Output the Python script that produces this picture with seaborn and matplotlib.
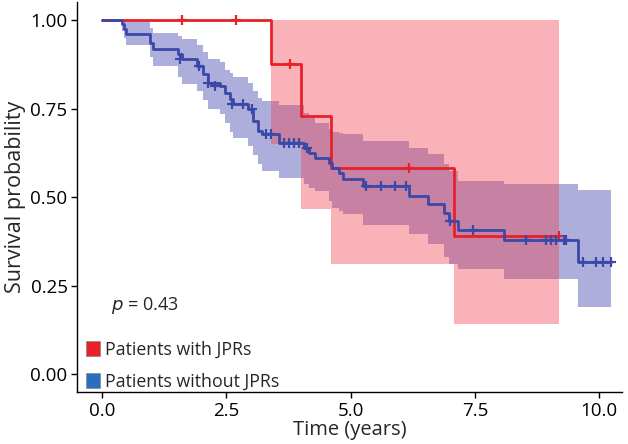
import matplotlib
matplotlib.use("Agg")
import matplotlib.pyplot as plt
import seaborn as sns
import pandas as pd
from matplotlib.patches import Patch

# ---- data ----
red_time  = [0.0, 3.39, 3.99, 4.60, 7.08, 9.19]
red_surv  = [1.0, 0.875, 0.729, 0.583, 0.389, 0.389]
red_lower = [1.0, 0.649, 0.466, 0.310, 0.143, 0.143]
red_upper = [1.0, 1.0, 1.0, 1.0, 1.0, 1.0]
red_cens_t = [1.60, 2.70, 3.78, 6.17, 9.19]
red_cens_s = [1.0, 1.0, 0.875, 0.583, 0.389]

blue_time = [0.0, 0.40, 0.44, 0.48, 0.97, 1.03, 1.53, 1.61, 1.91, 2.02, 2.12,
             2.38, 2.48, 2.58, 2.64, 2.94, 3.04, 3.14, 3.22, 3.55, 4.07, 4.17,
             4.29, 4.56, 4.62, 4.76, 4.84, 5.24, 6.17, 6.55, 6.87, 6.98, 7.15,
             8.09, 9.58, 10.24]
blue_surv = [1.0, 0.989, 0.975, 0.961, 0.936, 0.918, 0.904, 0.890, 0.870, 0.848, 0.823,
             0.814, 0.794, 0.777, 0.763, 0.749, 0.715, 0.687, 0.679, 0.653, 0.640, 0.625,
             0.611, 0.597, 0.583, 0.569, 0.552, 0.532, 0.504, 0.480, 0.456, 0.434, 0.408,
             0.380, 0.318, 0.318]
blue_lower = [1.0, 0.97, 0.95, 0.93, 0.895, 0.87, 0.84, 0.82, 0.80, 0.775, 0.75,
              0.735, 0.71, 0.685, 0.668, 0.645, 0.62, 0.594, 0.575, 0.555, 0.538, 0.525,
              0.518, 0.49, 0.47, 0.46, 0.453, 0.42, 0.397, 0.369, 0.33, 0.31, 0.298,
              0.27, 0.19, 0.19]
blue_upper = [1.0, 1.0, 1.0, 1.0, 0.978, 0.962, 0.955, 0.945, 0.93, 0.91, 0.89,
              0.88, 0.86, 0.85, 0.84, 0.823, 0.80, 0.78, 0.77, 0.76, 0.738, 0.73,
              0.71, 0.693, 0.685, 0.68, 0.679, 0.659, 0.639, 0.622, 0.594, 0.575, 0.546,
              0.538, 0.52, 0.52]
blue_cens_t = [1.57, 1.94, 2.12, 2.28, 2.62, 2.84, 3.02, 3.30, 3.40, 3.65, 3.75,
               3.85, 3.95, 4.12, 5.30, 5.60, 5.90, 6.12, 7.00, 7.46, 8.53, 8.93,
               9.03, 9.13, 9.29, 9.33, 9.68, 9.94, 10.08, 10.24]
blue_cens_s = [0.890, 0.870, 0.823, 0.814, 0.763, 0.763, 0.749, 0.679, 0.679, 0.653, 0.653,
               0.653, 0.653, 0.640, 0.532, 0.532, 0.532, 0.532, 0.434, 0.408, 0.380, 0.380,
               0.380, 0.380, 0.380, 0.380, 0.318, 0.318, 0.318, 0.318]

groups = ["Patients with JPRs", "Patients without JPRs"]
line_colors = {"Patients with JPRs": "#E8202A", "Patients without JPRs": "#3A48A8"}
fill_colors = {"Patients with JPRs": "#EE3A48", "Patients without JPRs": "#4040B0"}
fill_alpha = {"Patients with JPRs": 0.39, "Patients without JPRs": 0.42}
legend_colors = ["#E8202A", "#2A6FBF"]

df = pd.concat([
    pd.DataFrame({"time": red_time, "surv": red_surv, "lo": red_lower, "hi": red_upper, "group": groups[0]}),
    pd.DataFrame({"time": blue_time, "surv": blue_surv, "lo": blue_lower, "hi": blue_upper, "group": groups[1]}),
])
cens = pd.concat([
    pd.DataFrame({"time": red_cens_t, "surv": red_cens_s, "group": groups[0]}),
    pd.DataFrame({"time": blue_cens_t, "surv": blue_cens_s, "group": groups[1]}),
])

sns.set_theme(style="ticks")
plt.rcParams["font.family"] = ["Open Sans", "DejaVu Sans"]

fig = plt.figure(figsize=(6.28, 4.44), dpi=100)
ax = fig.add_axes([0.123, 0.117, 0.867, 0.878])

# blue ribbon first, red ribbon on top
for g in [groups[1], groups[0]]:
    d = df[df.group == g]
    ax.fill_between(d.time, d.lo, d.hi, step="post", color=fill_colors[g],
                    alpha=fill_alpha[g], linewidth=0, zorder=1)

sns.lineplot(data=df, x="time", y="surv", hue="group", palette=line_colors,
             drawstyle="steps-post", linewidth=2.0, ax=ax, legend=False,
             estimator=None, sort=False, zorder=3)
for g in groups:
    c = cens[cens.group == g]
    ax.scatter(c.time, c.surv, marker="+", s=55, linewidths=1.6,
               color=line_colors[g], zorder=4)

ax.set_xlim(-0.5, 10.45)
ax.set_ylim(-0.05, 1.05)
ax.set_xticks([0, 2.5, 5, 7.5, 10])
ax.set_xticklabels(["0.0", "2.5", "5.0", "7.5", "10.0"])
ax.set_yticks([0, 0.25, 0.5, 0.75, 1.0])
ax.set_yticklabels(["0.00", "0.25", "0.50", "0.75", "1.00"])
ax.tick_params(labelsize=13.5, length=4, width=1, colors="black", pad=3)
ax.set_xlabel("Time (years)", fontsize=14.5, labelpad=0)
ax.set_ylabel("Survival probability", fontsize=15.5, labelpad=3)
sns.despine(ax=ax)
for s in ["left", "bottom"]:
    ax.spines[s].set_linewidth(1.0)
    ax.spines[s].set_color("black")

ax.text(0.18, 0.195, r"$p$ = 0.43", fontsize=13, ha="left", va="center")

handles = [Patch(facecolor=legend_colors[i], edgecolor="#888888", linewidth=0.5, label=groups[i])
           for i in range(2)]
ax.legend(handles=handles, loc="lower left", bbox_to_anchor=(-0.004, -0.024),
          frameon=False, fontsize=12.8, handlelength=0.8, handleheight=0.9,
          handletextpad=0.3, labelspacing=0.8, borderaxespad=0.2)

fig.savefig("out.png", dpi=100)
